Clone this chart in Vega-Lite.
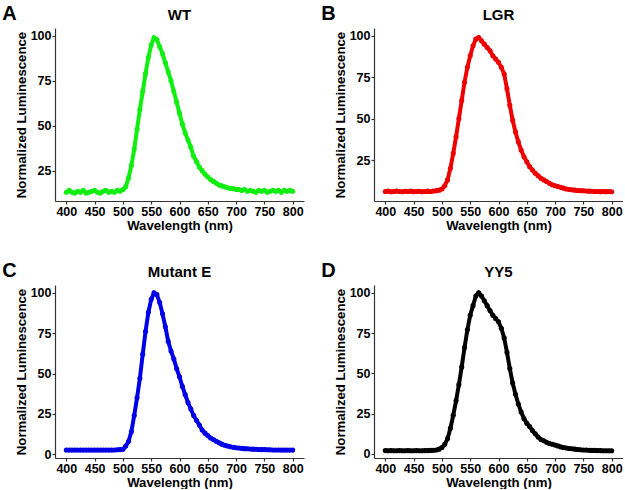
{
"$schema":"https://vega.github.io/schema/vega-lite/v6.json",
"padding":{"left":2,"top":4,"right":0,"bottom":0},
"background":"white",
"config":{
 "font":"Liberation Sans",
 "view":{"stroke":null},
 "axis":{"grid":false,"domainColor":"#333333","tickColor":"#333333","domainWidth":1.2,"tickWidth":1.2,"tickSize":3,"labelFont":"Liberation Sans","labelFontWeight":"bold","labelFontSize":12.5,"labelColor":"black","labelPadding":1,"titleFont":"Liberation Sans","titleFontWeight":"bold","titleFontSize":13.2,"titleColor":"black","titlePadding":2},
 "title":{"font":"Liberation Sans","fontWeight":"bold","fontSize":15,"color":"black","offset":5}
},
"datasets":{"d":[
{"s":"WT","x":400,"y":13},{"s":"WT","x":405,"y":14},{"s":"WT","x":410,"y":13},{"s":"WT","x":415,"y":12.5},{"s":"WT","x":420,"y":13.5},{"s":"WT","x":425,"y":13},{"s":"WT","x":430,"y":14},{"s":"WT","x":435,"y":12.5},{"s":"WT","x":440,"y":13},{"s":"WT","x":445,"y":13.5},{"s":"WT","x":450,"y":14},{"s":"WT","x":455,"y":13},{"s":"WT","x":460,"y":12.5},{"s":"WT","x":465,"y":13.5},{"s":"WT","x":470,"y":14},{"s":"WT","x":475,"y":13},{"s":"WT","x":480,"y":13.5},{"s":"WT","x":485,"y":13},{"s":"WT","x":490,"y":14},{"s":"WT","x":495,"y":13.5},{"s":"WT","x":500,"y":14.5},
{"s":"WT","x":505,"y":16},{"s":"WT","x":510,"y":21},{"s":"WT","x":515,"y":28},{"s":"WT","x":520,"y":37},{"s":"WT","x":525,"y":48},{"s":"WT","x":530,"y":59},{"s":"WT","x":535,"y":69},{"s":"WT","x":540,"y":79},{"s":"WT","x":545,"y":88},{"s":"WT","x":550,"y":95},{"s":"WT","x":555,"y":99},{"s":"WT","x":560,"y":98},{"s":"WT","x":565,"y":94},{"s":"WT","x":570,"y":90},{"s":"WT","x":575,"y":85},{"s":"WT","x":580,"y":80},{"s":"WT","x":585,"y":75},{"s":"WT","x":590,"y":69},{"s":"WT","x":595,"y":63},{"s":"WT","x":600,"y":57},{"s":"WT","x":605,"y":51},{"s":"WT","x":610,"y":46},{"s":"WT","x":615,"y":42},{"s":"WT","x":620,"y":38},{"s":"WT","x":625,"y":33},{"s":"WT","x":630,"y":30},{"s":"WT","x":635,"y":27},{"s":"WT","x":640,"y":25},{"s":"WT","x":645,"y":23},{"s":"WT","x":650,"y":21.5},{"s":"WT","x":655,"y":20},{"s":"WT","x":660,"y":19},{"s":"WT","x":665,"y":18},{"s":"WT","x":670,"y":17},{"s":"WT","x":675,"y":16.5},{"s":"WT","x":680,"y":16},{"s":"WT","x":685,"y":15.5},{"s":"WT","x":690,"y":15},{"s":"WT","x":695,"y":15},{"s":"WT","x":700,"y":14.5},{"s":"WT","x":705,"y":14.5},{"s":"WT","x":710,"y":14},{"s":"WT","x":715,"y":14.5},{"s":"WT","x":720,"y":13.5},{"s":"WT","x":725,"y":14},{"s":"WT","x":730,"y":13.5},{"s":"WT","x":735,"y":13},{"s":"WT","x":740,"y":14},{"s":"WT","x":745,"y":13.5},{"s":"WT","x":750,"y":14},{"s":"WT","x":755,"y":13},{"s":"WT","x":760,"y":13.5},{"s":"WT","x":765,"y":14},{"s":"WT","x":770,"y":13.5},{"s":"WT","x":775,"y":14},{"s":"WT","x":780,"y":13},{"s":"WT","x":785,"y":14},{"s":"WT","x":790,"y":13.5},{"s":"WT","x":795,"y":14},{"s":"WT","x":800,"y":13.5},
{"s":"LGR","x":400,"y":6},{"s":"LGR","x":405,"y":6.2},{"s":"LGR","x":410,"y":5.8},{"s":"LGR","x":415,"y":6},{"s":"LGR","x":420,"y":6.3},{"s":"LGR","x":425,"y":6},{"s":"LGR","x":430,"y":5.8},{"s":"LGR","x":435,"y":6.1},{"s":"LGR","x":440,"y":6},{"s":"LGR","x":445,"y":6.2},{"s":"LGR","x":450,"y":5.9},{"s":"LGR","x":455,"y":6},{"s":"LGR","x":460,"y":6.1},{"s":"LGR","x":465,"y":5.8},{"s":"LGR","x":470,"y":6},{"s":"LGR","x":475,"y":6.2},{"s":"LGR","x":480,"y":6},{"s":"LGR","x":485,"y":6.3},{"s":"LGR","x":490,"y":6.5},{"s":"LGR","x":495,"y":6.8},{"s":"LGR","x":500,"y":7.5},
{"s":"LGR","x":505,"y":9.5},{"s":"LGR","x":510,"y":13},{"s":"LGR","x":515,"y":20},{"s":"LGR","x":520,"y":29},{"s":"LGR","x":525,"y":39},{"s":"LGR","x":530,"y":50},{"s":"LGR","x":535,"y":61},{"s":"LGR","x":540,"y":72},{"s":"LGR","x":545,"y":81},{"s":"LGR","x":550,"y":88},{"s":"LGR","x":555,"y":94},{"s":"LGR","x":560,"y":98},{"s":"LGR","x":565,"y":99},{"s":"LGR","x":570,"y":97},{"s":"LGR","x":575,"y":95},{"s":"LGR","x":580,"y":93},{"s":"LGR","x":585,"y":91},{"s":"LGR","x":590,"y":88},{"s":"LGR","x":595,"y":86},{"s":"LGR","x":600,"y":84},{"s":"LGR","x":605,"y":81},{"s":"LGR","x":610,"y":77},{"s":"LGR","x":615,"y":68},{"s":"LGR","x":620,"y":58},{"s":"LGR","x":625,"y":49},{"s":"LGR","x":630,"y":42},{"s":"LGR","x":635,"y":36},{"s":"LGR","x":640,"y":31},{"s":"LGR","x":645,"y":27},{"s":"LGR","x":650,"y":24},{"s":"LGR","x":655,"y":21},{"s":"LGR","x":660,"y":19},{"s":"LGR","x":665,"y":17},{"s":"LGR","x":670,"y":15.5},{"s":"LGR","x":675,"y":14},{"s":"LGR","x":680,"y":13},{"s":"LGR","x":685,"y":12},{"s":"LGR","x":690,"y":11},{"s":"LGR","x":695,"y":10},{"s":"LGR","x":700,"y":9.5},{"s":"LGR","x":705,"y":9},{"s":"LGR","x":710,"y":8.5},{"s":"LGR","x":715,"y":8},{"s":"LGR","x":720,"y":7.5},{"s":"LGR","x":725,"y":7.2},{"s":"LGR","x":730,"y":7},{"s":"LGR","x":735,"y":6.8},{"s":"LGR","x":740,"y":6.6},{"s":"LGR","x":745,"y":6.5},{"s":"LGR","x":750,"y":6.4},{"s":"LGR","x":755,"y":6.3},{"s":"LGR","x":760,"y":6.2},{"s":"LGR","x":765,"y":6.1},{"s":"LGR","x":770,"y":6},{"s":"LGR","x":775,"y":6},{"s":"LGR","x":780,"y":5.9},{"s":"LGR","x":785,"y":6},{"s":"LGR","x":790,"y":5.9},{"s":"LGR","x":795,"y":6},{"s":"LGR","x":800,"y":5.8},
{"s":"ME","x":400,"y":2.5},{"s":"ME","x":405,"y":2.5},{"s":"ME","x":410,"y":2.5},{"s":"ME","x":415,"y":2.5},{"s":"ME","x":420,"y":2.5},{"s":"ME","x":425,"y":2.5},{"s":"ME","x":430,"y":2.5},{"s":"ME","x":435,"y":2.5},{"s":"ME","x":440,"y":2.5},{"s":"ME","x":445,"y":2.5},{"s":"ME","x":450,"y":2.5},{"s":"ME","x":455,"y":2.5},{"s":"ME","x":460,"y":2.5},{"s":"ME","x":465,"y":2.5},{"s":"ME","x":470,"y":2.5},{"s":"ME","x":475,"y":2.5},{"s":"ME","x":480,"y":2.5},{"s":"ME","x":485,"y":2.6},{"s":"ME","x":490,"y":2.7},{"s":"ME","x":495,"y":2.8},{"s":"ME","x":500,"y":3},
{"s":"ME","x":505,"y":5},{"s":"ME","x":510,"y":8},{"s":"ME","x":515,"y":14},{"s":"ME","x":520,"y":24},{"s":"ME","x":525,"y":35},{"s":"ME","x":530,"y":47},{"s":"ME","x":535,"y":62},{"s":"ME","x":540,"y":76},{"s":"ME","x":545,"y":88},{"s":"ME","x":550,"y":96},{"s":"ME","x":555,"y":100},{"s":"ME","x":560,"y":99},{"s":"ME","x":565,"y":94},{"s":"ME","x":570,"y":87},{"s":"ME","x":575,"y":79},{"s":"ME","x":580,"y":70},{"s":"ME","x":585,"y":64},{"s":"ME","x":590,"y":59},{"s":"ME","x":595,"y":53},{"s":"ME","x":600,"y":48},{"s":"ME","x":605,"y":42},{"s":"ME","x":610,"y":37},{"s":"ME","x":615,"y":32},{"s":"ME","x":620,"y":28},{"s":"ME","x":625,"y":24},{"s":"ME","x":630,"y":21},{"s":"ME","x":635,"y":18},{"s":"ME","x":640,"y":15},{"s":"ME","x":645,"y":13},{"s":"ME","x":650,"y":11.5},{"s":"ME","x":655,"y":10},{"s":"ME","x":660,"y":9},{"s":"ME","x":665,"y":8},{"s":"ME","x":670,"y":7},{"s":"ME","x":675,"y":6.2},{"s":"ME","x":680,"y":5.5},{"s":"ME","x":685,"y":5},{"s":"ME","x":690,"y":4.6},{"s":"ME","x":695,"y":4.3},{"s":"ME","x":700,"y":4},{"s":"ME","x":705,"y":3.8},{"s":"ME","x":710,"y":3.6},{"s":"ME","x":715,"y":3.4},{"s":"ME","x":720,"y":3.3},{"s":"ME","x":725,"y":3.2},{"s":"ME","x":730,"y":3.1},{"s":"ME","x":735,"y":3},{"s":"ME","x":740,"y":2.9},{"s":"ME","x":745,"y":2.8},{"s":"ME","x":750,"y":2.8},{"s":"ME","x":755,"y":2.7},{"s":"ME","x":760,"y":2.7},{"s":"ME","x":765,"y":2.6},{"s":"ME","x":770,"y":2.6},{"s":"ME","x":775,"y":2.6},{"s":"ME","x":780,"y":2.5},{"s":"ME","x":785,"y":2.5},{"s":"ME","x":790,"y":2.5},{"s":"ME","x":795,"y":2.5},{"s":"ME","x":800,"y":2.5},
{"s":"YY5","x":400,"y":2.1},{"s":"YY5","x":405,"y":2},{"s":"YY5","x":410,"y":2.1},{"s":"YY5","x":415,"y":2},{"s":"YY5","x":420,"y":2},{"s":"YY5","x":425,"y":2.1},{"s":"YY5","x":430,"y":2},{"s":"YY5","x":435,"y":2},{"s":"YY5","x":440,"y":2.1},{"s":"YY5","x":445,"y":2},{"s":"YY5","x":450,"y":2},{"s":"YY5","x":455,"y":2.1},{"s":"YY5","x":460,"y":2},{"s":"YY5","x":465,"y":2},{"s":"YY5","x":470,"y":2.1},{"s":"YY5","x":475,"y":2.1},{"s":"YY5","x":480,"y":2.2},{"s":"YY5","x":485,"y":2.3},{"s":"YY5","x":490,"y":2.5},{"s":"YY5","x":495,"y":3},{"s":"YY5","x":500,"y":4},
{"s":"YY5","x":505,"y":6},{"s":"YY5","x":510,"y":9.5},{"s":"YY5","x":515,"y":16},{"s":"YY5","x":520,"y":24},{"s":"YY5","x":525,"y":33},{"s":"YY5","x":530,"y":43},{"s":"YY5","x":535,"y":54},{"s":"YY5","x":540,"y":66},{"s":"YY5","x":545,"y":77},{"s":"YY5","x":550,"y":86},{"s":"YY5","x":555,"y":92},{"s":"YY5","x":560,"y":98},{"s":"YY5","x":565,"y":100},{"s":"YY5","x":570,"y":98},{"s":"YY5","x":575,"y":95},{"s":"YY5","x":580,"y":92},{"s":"YY5","x":585,"y":89},{"s":"YY5","x":590,"y":86},{"s":"YY5","x":595,"y":84},{"s":"YY5","x":600,"y":82},{"s":"YY5","x":605,"y":78},{"s":"YY5","x":610,"y":72},{"s":"YY5","x":615,"y":63},{"s":"YY5","x":620,"y":53},{"s":"YY5","x":625,"y":44},{"s":"YY5","x":630,"y":37},{"s":"YY5","x":635,"y":31},{"s":"YY5","x":640,"y":26},{"s":"YY5","x":645,"y":22},{"s":"YY5","x":650,"y":19},{"s":"YY5","x":655,"y":17},{"s":"YY5","x":660,"y":14.5},{"s":"YY5","x":665,"y":12.5},{"s":"YY5","x":670,"y":10.5},{"s":"YY5","x":675,"y":9},{"s":"YY5","x":680,"y":8.2},{"s":"YY5","x":685,"y":7.3},{"s":"YY5","x":690,"y":6.5},{"s":"YY5","x":695,"y":6},{"s":"YY5","x":700,"y":5.5},{"s":"YY5","x":705,"y":5},{"s":"YY5","x":710,"y":4.4},{"s":"YY5","x":715,"y":4},{"s":"YY5","x":720,"y":3.7},{"s":"YY5","x":725,"y":3.4},{"s":"YY5","x":730,"y":3.2},{"s":"YY5","x":735,"y":3},{"s":"YY5","x":740,"y":2.8},{"s":"YY5","x":745,"y":2.6},{"s":"YY5","x":750,"y":2.5},{"s":"YY5","x":755,"y":2.4},{"s":"YY5","x":760,"y":2.3},{"s":"YY5","x":765,"y":2.2},{"s":"YY5","x":770,"y":2.2},{"s":"YY5","x":775,"y":2.1},{"s":"YY5","x":780,"y":2.1},{"s":"YY5","x":785,"y":2},{"s":"YY5","x":790,"y":2},{"s":"YY5","x":795,"y":2},{"s":"YY5","x":800,"y":2}
]},
"columns":2,
"spacing":{"row":28,"column":17},
"concat":[
 {"title":{"text":"A","anchor":"start","fontSize":20,"dx":-12,"offset":-16},
  "vconcat":[{"title":"WT","width":249,"height":173,"data":{"name":"d"},"transform":[{"filter":"datum.s==='WT'"}],
   "mark":{"type":"line","strokeWidth":4,"color":"#11EE11","point":{"size":26,"filled":true,"color":"#11EE11"}},
   "encoding":{"x":{"field":"x","type":"quantitative","scale":{"domain":[380,820],"nice":false,"zero":false},"axis":{"values":[400,450,500,550,600,650,700,750,800],"title":"Wavelength (nm)"}},
    "y":{"field":"y","type":"quantitative","scale":{"domain":[8.1,104.4],"nice":false,"zero":false},"axis":{"values":[25,50,75,100],"title":"Normalized Luminescence"}}}}]},
 {"title":{"text":"B","anchor":"start","fontSize":20,"dx":-12,"offset":-16},
  "vconcat":[{"title":"LGR","width":249,"height":173,"data":{"name":"d"},"transform":[{"filter":"datum.s==='LGR'"}],
   "mark":{"type":"line","strokeWidth":4,"color":"#EE0000","point":{"size":26,"filled":true,"color":"#EE0000"}},
   "encoding":{"x":{"field":"x","type":"quantitative","scale":{"domain":[380,820],"nice":false,"zero":false},"axis":{"values":[400,450,500,550,600,650,700,750,800],"title":"Wavelength (nm)"}},
    "y":{"field":"y","type":"quantitative","scale":{"domain":[0.25,104.75],"nice":false,"zero":false},"axis":{"values":[25,50,75,100],"title":"Normalized Luminescence"}}}}]},
 {"title":{"text":"C","anchor":"start","fontSize":20,"dx":-12,"offset":-16},
  "vconcat":[{"title":"Mutant E","width":249,"height":173,"data":{"name":"d"},"transform":[{"filter":"datum.s==='ME'"}],
   "mark":{"type":"line","strokeWidth":4,"color":"#0000E6","point":{"size":26,"filled":true,"color":"#0000E6"}},
   "encoding":{"x":{"field":"x","type":"quantitative","scale":{"domain":[380,820],"nice":false,"zero":false},"axis":{"values":[400,450,500,550,600,650,700,750,800],"title":"Wavelength (nm)"}},
    "y":{"field":"y","type":"quantitative","scale":{"domain":[-2.4,104.9],"nice":false,"zero":false},"axis":{"values":[0,25,50,75,100],"title":"Normalized Luminescence"}}}}]},
 {"title":{"text":"D","anchor":"start","fontSize":20,"dx":-12,"offset":-16},
  "vconcat":[{"title":"YY5","width":249,"height":173,"data":{"name":"d"},"transform":[{"filter":"datum.s==='YY5'"}],
   "mark":{"type":"line","strokeWidth":4,"color":"#000000","point":{"size":26,"filled":true,"color":"#000000"}},
   "encoding":{"x":{"field":"x","type":"quantitative","scale":{"domain":[380,820],"nice":false,"zero":false},"axis":{"values":[400,450,500,550,600,650,700,750,800],"title":"Wavelength (nm)"}},
    "y":{"field":"y","type":"quantitative","scale":{"domain":[-2.5,104.8],"nice":false,"zero":false},"axis":{"values":[0,25,50,75,100],"title":"Normalized Luminescence"}}}}]}
]
}
